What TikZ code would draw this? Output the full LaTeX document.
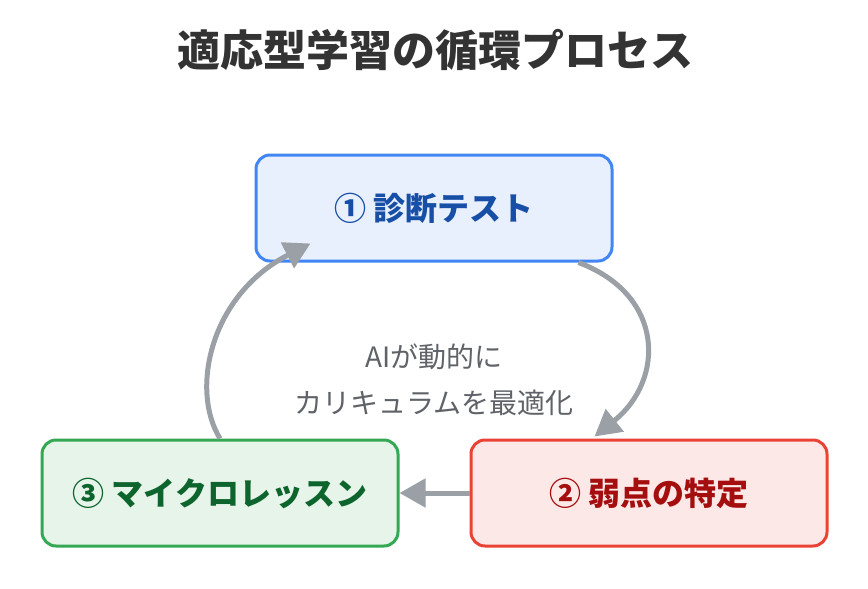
\documentclass[tikz,border=0pt]{standalone}
\usepackage{fontspec}
\setmainfont{Noto Sans CJK JP}
\usetikzlibrary{arrows.meta}

\definecolor{titlegray}{HTML}{333333}
\definecolor{notegray}{HTML}{5F6368}
\definecolor{arrowgray}{HTML}{9AA0A6}
\definecolor{blueline}{HTML}{4285F4}
\definecolor{bluefill}{HTML}{E8F0FE}
\definecolor{bluetext}{HTML}{174EA6}
\definecolor{redline}{HTML}{EA4335}
\definecolor{redfill}{HTML}{FCE8E6}
\definecolor{redtext}{HTML}{A50E0E}
\definecolor{greenline}{HTML}{34A853}
\definecolor{greenfill}{HTML}{E6F4EA}
\definecolor{greentext}{HTML}{0D652D}

\begin{document}
\begin{tikzpicture}[x=1pt,y=-1pt,
    stagebox/.style={draw, rounded corners=14pt, line width=3pt,
        minimum width=356pt, minimum height=106pt,
        font=\fontsize{32}{38}\selectfont\bfseries},
    flow/.style={draw=arrowgray, line width=5pt,
        -{Triangle[length=26pt,width=28pt]}}]
    \useasboundingbox [fill=white] (0,0) rectangle (868,589);
    % title
    \node [text=titlegray, font=\fontsize{43}{50}\selectfont\bfseries] (title) at (435,50) {適応型学習の循環プロセス};
    % the three stages
    \node [stagebox, draw=blueline, fill=bluefill, text=bluetext] (test) at (434,208) {① 診断テスト};
    \node [stagebox, draw=redline, fill=redfill, text=redtext] (weak) at (649,493) {② 弱点の特定};
    \node [stagebox, draw=greenline, fill=greenfill, text=greentext] (lesson) at (220,493) {③ マイクロレッスン};
    % cycle
    \draw [flow] ([xshift=-35pt]test.south east) .. controls (665,295) and (665,380) .. ([xshift=125pt,yshift=2pt]weak.north west);
    \draw [flow] (weak.west) -- (lesson.east);
    \draw [flow] (lesson.north) .. controls (190,390) and (210,295) .. ([xshift=56pt,yshift=19pt]test.south west);
    % note in the middle
    \node [text=notegray, align=center, font=\fontsize{28}{46}\selectfont] (note) at (434,380) {AIが動的に\\カリキュラムを最適化};
\end{tikzpicture}
\end{document}
